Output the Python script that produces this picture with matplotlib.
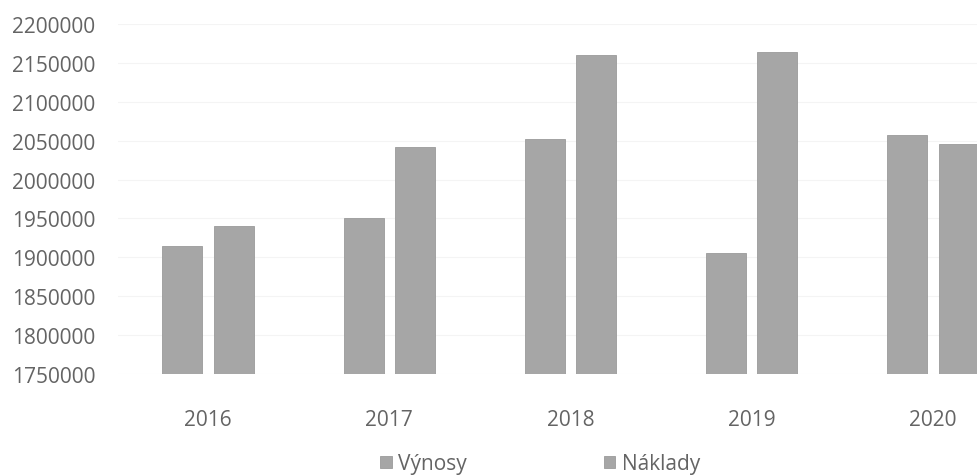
import matplotlib.pyplot as plt
import numpy as np

plt.rcParams['font.family'] = ['Open Sans', 'DejaVu Sans']

# data
years = ['2016', '2017', '2018', '2019', '2020']
vynosy = [1915000, 1950000, 2052000, 1905000, 2057000]
naklady = [1940000, 2042000, 2160000, 2164000, 2046000]
series_names = ['Výnosy', 'Náklady']

text_color = '#646464'
bar_color = '#a6a6a6'

fig = plt.figure(figsize=(9.77, 4.77), dpi=100)
# axes run past the right edge, the reference is cropped there
ax = fig.add_axes([117.5 / 977, 102 / 477, 906 / 977, 350 / 477])

x = np.arange(len(years))
w = 0.22
off = 0.142
ax.bar(x - off, vynosy, width=w, color=bar_color, edgecolor='#9a9a9a',
       linewidth=0.6, label=series_names[0], zorder=2)
ax.bar(x + off, naklady, width=w, color=bar_color, edgecolor='#9a9a9a',
       linewidth=0.6, label=series_names[1], zorder=2)

ax.set_xlim(-0.5, len(years) - 0.5)
ax.set_ylim(1750000, 2200000)
ax.set_yticks(np.arange(1750000, 2200001, 50000))
ax.yaxis.set_major_formatter(plt.FuncFormatter(lambda v, p: f'{int(v)}'))
ax.set_xticks(x)
ax.set_xticklabels(years)

ax.grid(axis='y', color='#f4f4f4', linewidth=0.8, zorder=0)
for s in ax.spines.values():
    s.set_visible(False)
ax.tick_params(axis='both', length=0, labelsize=15, colors=text_color)
ax.tick_params(axis='y', pad=16)
ax.tick_params(axis='x', pad=25)

fig.legend(loc='center', bbox_to_anchor=(540 / 977, 1 - 465 / 477),
           ncol=2, frameon=False, fontsize=15, labelcolor=text_color,
           handlelength=0.55, handleheight=0.55, handletextpad=0.3,
           columnspacing=6.6)

fig.savefig('out.png', dpi=100)
